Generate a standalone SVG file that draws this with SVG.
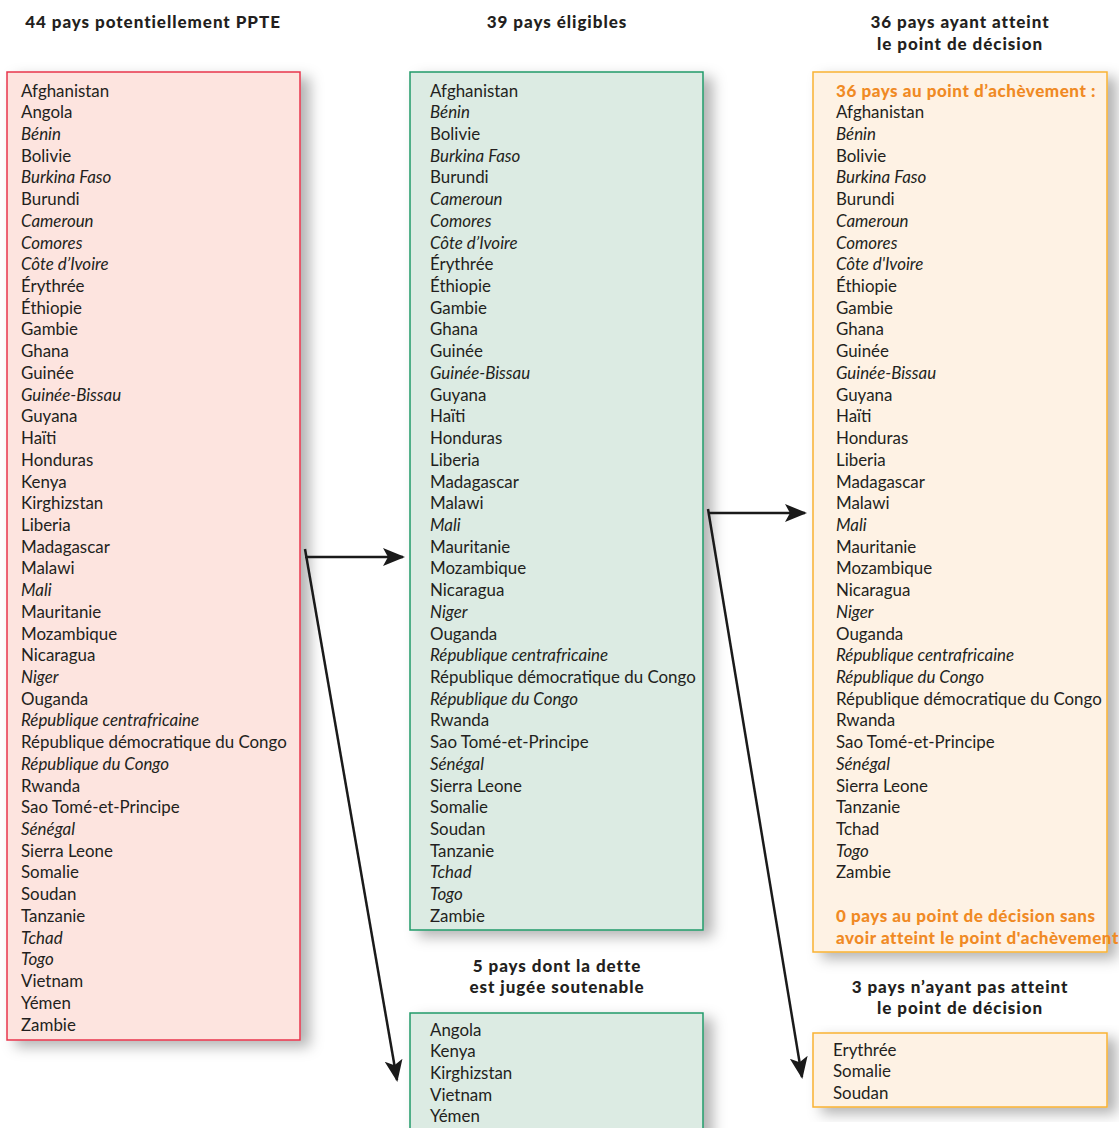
<svg xmlns="http://www.w3.org/2000/svg" width="1119" height="1128" viewBox="0 0 1119 1128">
<style>
text{font-family:Lato,"Noto Sans","Liberation Sans",sans-serif;font-size:16.9px;fill:#231f20}
.h{font-weight:900;text-anchor:middle;font-size:17px;letter-spacing:0.95px}
.i{font-style:italic}
.o{fill:#f08a24;font-weight:900;font-size:17px;letter-spacing:0.55px}
.pink{fill:#fde4df;stroke:#e8344c;stroke-width:1.5}
.green{fill:#dcebe3;stroke:#219a6a;stroke-width:1.5}
.orange{fill:#fef2e4;stroke:#f9b233;stroke-width:1.5}
.conn{stroke:#1a1a1a;stroke-width:2.5;fill:none;marker-end:url(#arr)}
</style>
<defs>
<filter id="sh" x="-10%" y="-10%" width="130%" height="130%">
<feDropShadow dx="9" dy="6" stdDeviation="7" flood-color="#000" flood-opacity="0.3"/>
</filter>
<marker id="arr" markerUnits="userSpaceOnUse" markerWidth="24" markerHeight="20" refX="20" refY="9" orient="auto">
<path d="M0,0 L22,9 L0,18 L5,9 z" fill="#1a1a1a"/>
</marker>
</defs>
<rect width="1119" height="1128" fill="#fff"/>

<g id="headers">
<text class="h" x="153" y="28">44 pays potentiellement PPTE</text>
<text class="h" x="557" y="28">39 pays éligibles</text>
<text class="h" x="960" y="28">36 pays ayant atteint</text>
<text class="h" x="960" y="50">le point de décision</text>
<text class="h" x="557" y="972">5 pays dont la dette</text>
<text class="h" x="557" y="993">est jugée soutenable</text>
<text class="h" x="960" y="993">3 pays n’ayant pas atteint</text>
<text class="h" x="960" y="1014">le point de décision</text>
</g>

<g id="box-ppte">
<rect class="pink" x="7" y="72" width="293" height="968" filter="url(#sh)"/>
<text x="21">
<tspan x="21" y="96.5">Afghanistan</tspan>
<tspan x="21" y="118.2">Angola</tspan>
<tspan x="21" y="139.9" class="i">Bénin</tspan>
<tspan x="21" y="161.7">Bolivie</tspan>
<tspan x="21" y="183.4" class="i">Burkina Faso</tspan>
<tspan x="21" y="205.1">Burundi</tspan>
<tspan x="21" y="226.8" class="i">Cameroun</tspan>
<tspan x="21" y="248.5" class="i">Comores</tspan>
<tspan x="21" y="270.3" class="i">Côte d’Ivoire</tspan>
<tspan x="21" y="292">Érythrée</tspan>
<tspan x="21" y="313.7">Éthiopie</tspan>
<tspan x="21" y="335.4">Gambie</tspan>
<tspan x="21" y="357.1">Ghana</tspan>
<tspan x="21" y="378.9">Guinée</tspan>
<tspan x="21" y="400.6" class="i">Guinée-Bissau</tspan>
<tspan x="21" y="422.3">Guyana</tspan>
<tspan x="21" y="444">Haïti</tspan>
<tspan x="21" y="465.7">Honduras</tspan>
<tspan x="21" y="487.5">Kenya</tspan>
<tspan x="21" y="509.2">Kirghizstan</tspan>
<tspan x="21" y="530.9">Liberia</tspan>
<tspan x="21" y="552.6">Madagascar</tspan>
<tspan x="21" y="574.3">Malawi</tspan>
<tspan x="21" y="596.1" class="i">Mali</tspan>
<tspan x="21" y="617.8">Mauritanie</tspan>
<tspan x="21" y="639.5">Mozambique</tspan>
<tspan x="21" y="661.2">Nicaragua</tspan>
<tspan x="21" y="682.9" class="i">Niger</tspan>
<tspan x="21" y="704.7">Ouganda</tspan>
<tspan x="21" y="726.4" class="i">République centrafricaine</tspan>
<tspan x="21" y="748.1">République démocratique du Congo</tspan>
<tspan x="21" y="769.8" class="i">République du Congo</tspan>
<tspan x="21" y="791.5">Rwanda</tspan>
<tspan x="21" y="813.3">Sao Tomé-et-Principe</tspan>
<tspan x="21" y="835" class="i">Sénégal</tspan>
<tspan x="21" y="856.7">Sierra Leone</tspan>
<tspan x="21" y="878.4">Somalie</tspan>
<tspan x="21" y="900.1">Soudan</tspan>
<tspan x="21" y="921.9">Tanzanie</tspan>
<tspan x="21" y="943.6" class="i">Tchad</tspan>
<tspan x="21" y="965.3" class="i">Togo</tspan>
<tspan x="21" y="987">Vietnam</tspan>
<tspan x="21" y="1008.7">Yémen</tspan>
<tspan x="21" y="1030.5">Zambie</tspan>
</text>
</g>

<g id="box-eligibles">
<rect class="green" x="410" y="72" width="293" height="858" filter="url(#sh)"/>
<text x="430">
<tspan x="430" y="96.5">Afghanistan</tspan>
<tspan x="430" y="118.2" class="i">Bénin</tspan>
<tspan x="430" y="139.9">Bolivie</tspan>
<tspan x="430" y="161.7" class="i">Burkina Faso</tspan>
<tspan x="430" y="183.4">Burundi</tspan>
<tspan x="430" y="205.1" class="i">Cameroun</tspan>
<tspan x="430" y="226.8" class="i">Comores</tspan>
<tspan x="430" y="248.5" class="i">Côte d’Ivoire</tspan>
<tspan x="430" y="270.3">Érythrée</tspan>
<tspan x="430" y="292">Éthiopie</tspan>
<tspan x="430" y="313.7">Gambie</tspan>
<tspan x="430" y="335.4">Ghana</tspan>
<tspan x="430" y="357.1">Guinée</tspan>
<tspan x="430" y="378.9" class="i">Guinée-Bissau</tspan>
<tspan x="430" y="400.6">Guyana</tspan>
<tspan x="430" y="422.3">Haïti</tspan>
<tspan x="430" y="444">Honduras</tspan>
<tspan x="430" y="465.7">Liberia</tspan>
<tspan x="430" y="487.5">Madagascar</tspan>
<tspan x="430" y="509.2">Malawi</tspan>
<tspan x="430" y="530.9" class="i">Mali</tspan>
<tspan x="430" y="552.6">Mauritanie</tspan>
<tspan x="430" y="574.3">Mozambique</tspan>
<tspan x="430" y="596.1">Nicaragua</tspan>
<tspan x="430" y="617.8" class="i">Niger</tspan>
<tspan x="430" y="639.5">Ouganda</tspan>
<tspan x="430" y="661.2" class="i">République centrafricaine</tspan>
<tspan x="430" y="682.9">République démocratique du Congo</tspan>
<tspan x="430" y="704.7" class="i">République du Congo</tspan>
<tspan x="430" y="726.4">Rwanda</tspan>
<tspan x="430" y="748.1">Sao Tomé-et-Principe</tspan>
<tspan x="430" y="769.8" class="i">Sénégal</tspan>
<tspan x="430" y="791.5">Sierra Leone</tspan>
<tspan x="430" y="813.3">Somalie</tspan>
<tspan x="430" y="835">Soudan</tspan>
<tspan x="430" y="856.7">Tanzanie</tspan>
<tspan x="430" y="878.4" class="i">Tchad</tspan>
<tspan x="430" y="900.1" class="i">Togo</tspan>
<tspan x="430" y="921.9">Zambie</tspan>
</text>
</g>

<g id="box-decision">
<rect class="orange" x="813" y="72" width="294" height="880" filter="url(#sh)"/>
<text x="836">
<tspan x="836" y="96.5" class="o">36 pays au point d’achèvement :</tspan>
<tspan x="836" y="118.2">Afghanistan</tspan>
<tspan x="836" y="139.9" class="i">Bénin</tspan>
<tspan x="836" y="161.7">Bolivie</tspan>
<tspan x="836" y="183.4" class="i">Burkina Faso</tspan>
<tspan x="836" y="205.1">Burundi</tspan>
<tspan x="836" y="226.8" class="i">Cameroun</tspan>
<tspan x="836" y="248.5" class="i">Comores</tspan>
<tspan x="836" y="270.3" class="i">Côte d'Ivoire</tspan>
<tspan x="836" y="292">Éthiopie</tspan>
<tspan x="836" y="313.7">Gambie</tspan>
<tspan x="836" y="335.4">Ghana</tspan>
<tspan x="836" y="357.1">Guinée</tspan>
<tspan x="836" y="378.9" class="i">Guinée-Bissau</tspan>
<tspan x="836" y="400.6">Guyana</tspan>
<tspan x="836" y="422.3">Haïti</tspan>
<tspan x="836" y="444">Honduras</tspan>
<tspan x="836" y="465.7">Liberia</tspan>
<tspan x="836" y="487.5">Madagascar</tspan>
<tspan x="836" y="509.2">Malawi</tspan>
<tspan x="836" y="530.9" class="i">Mali</tspan>
<tspan x="836" y="552.6">Mauritanie</tspan>
<tspan x="836" y="574.3">Mozambique</tspan>
<tspan x="836" y="596.1">Nicaragua</tspan>
<tspan x="836" y="617.8" class="i">Niger</tspan>
<tspan x="836" y="639.5">Ouganda</tspan>
<tspan x="836" y="661.2" class="i">République centrafricaine</tspan>
<tspan x="836" y="682.9" class="i">République du Congo</tspan>
<tspan x="836" y="704.7">République démocratique du Congo</tspan>
<tspan x="836" y="726.4">Rwanda</tspan>
<tspan x="836" y="748.1">Sao Tomé-et-Principe</tspan>
<tspan x="836" y="769.8" class="i">Sénégal</tspan>
<tspan x="836" y="791.5">Sierra Leone</tspan>
<tspan x="836" y="813.3">Tanzanie</tspan>
<tspan x="836" y="835">Tchad</tspan>
<tspan x="836" y="856.7" class="i">Togo</tspan>
<tspan x="836" y="878.4">Zambie</tspan>
<tspan x="836" y="921.9" class="o">0 pays au point de décision sans</tspan>
<tspan x="836" y="943.6" class="o">avoir atteint le point d'achèvement</tspan>
</text>
</g>

<g id="box-soutenable">
<rect class="green" x="410" y="1013" width="293" height="125" filter="url(#sh)"/>
<text x="430">
<tspan x="430" y="1035.5">Angola</tspan>
<tspan x="430" y="1057.2">Kenya</tspan>
<tspan x="430" y="1078.9">Kirghizstan</tspan>
<tspan x="430" y="1100.7">Vietnam</tspan>
<tspan x="430" y="1122.4">Yémen</tspan>
</text>
</g>

<g id="box-non-decision">
<rect class="orange" x="813" y="1033" width="294" height="74" filter="url(#sh)"/>
<text x="833">
<tspan x="833" y="1055.5">Erythrée</tspan>
<tspan x="833" y="1077.2">Somalie</tspan>
<tspan x="833" y="1098.9">Soudan</tspan>
</text>
</g>

<g id="connectors">
<path class="conn" d="M305,557 H403"/>
<path class="conn" d="M305,549 L397,1080"/>
<path class="conn" d="M708,513 H805"/>
<path class="conn" d="M708,509 L802,1077"/>
</g>
</svg>
